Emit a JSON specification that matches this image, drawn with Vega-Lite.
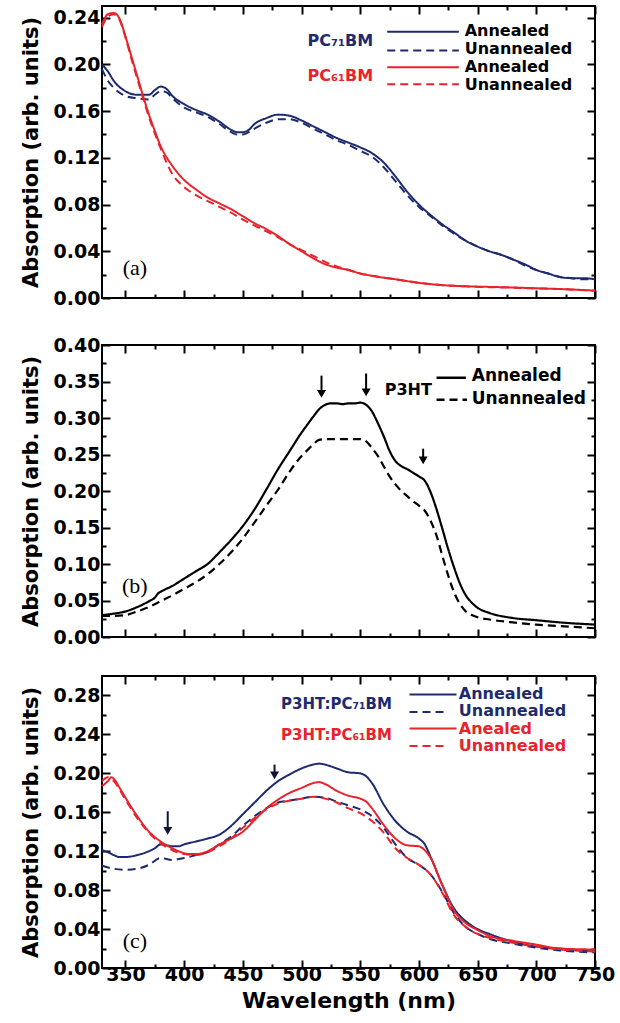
{
"$schema": "https://vega.github.io/schema/vega-lite/v6.json",
"padding": {"left": 19, "top": 4, "right": 2, "bottom": 0},
"spacing": 26,
"config": {
 "view": {"stroke": "black", "strokeWidth": 2},
 "font": "DejaVu Sans",
 "axis": {"domain": false, "grid": false, "tickColor": "black", "tickWidth": 2, "labelFont": "DejaVu Sans", "labelFontWeight": "bold", "labelFontSize": 19, "labelColor": "black", "labelOverlap": false, "labelFlush": false, "titleFont": "DejaVu Sans", "titleFontWeight": "bold", "titleFontSize": 21, "titleColor": "black"}
},
"vconcat": [
{
 "width": 493, "height": 292,
 "resolve": {"axis": {"x": "independent", "y": "independent"}},
 "layer": [
 {
  "data": {"values": [
{"wl":330,"a":0.200,"s":"bs"},{"wl":335,"a":0.194,"s":"bs"},{"wl":340,"a":0.186,"s":"bs"},{"wl":350,"a":0.177,"s":"bs"},{"wl":360,"a":0.174,"s":"bs"},{"wl":370,"a":0.174,"s":"bs"},{"wl":375,"a":0.178,"s":"bs"},{"wl":380,"a":0.181,"s":"bs"},{"wl":385,"a":0.179,"s":"bs"},{"wl":390,"a":0.173,"s":"bs"},{"wl":400,"a":0.166,"s":"bs"},{"wl":410,"a":0.161,"s":"bs"},{"wl":420,"a":0.157,"s":"bs"},{"wl":430,"a":0.151,"s":"bs"},{"wl":440,"a":0.144,"s":"bs"},{"wl":445,"a":0.142,"s":"bs"},{"wl":450,"a":0.142,"s":"bs"},{"wl":455,"a":0.144,"s":"bs"},{"wl":460,"a":0.149,"s":"bs"},{"wl":470,"a":0.154,"s":"bs"},{"wl":480,"a":0.157,"s":"bs"},{"wl":490,"a":0.156,"s":"bs"},{"wl":500,"a":0.152,"s":"bs"},{"wl":510,"a":0.147,"s":"bs"},{"wl":520,"a":0.142,"s":"bs"},{"wl":530,"a":0.137,"s":"bs"},{"wl":540,"a":0.133,"s":"bs"},{"wl":550,"a":0.129,"s":"bs"},{"wl":560,"a":0.124,"s":"bs"},{"wl":570,"a":0.116,"s":"bs"},{"wl":580,"a":0.104,"s":"bs"},{"wl":590,"a":0.091,"s":"bs"},{"wl":600,"a":0.080,"s":"bs"},{"wl":610,"a":0.071,"s":"bs"},{"wl":620,"a":0.063,"s":"bs"},{"wl":630,"a":0.056,"s":"bs"},{"wl":640,"a":0.049,"s":"bs"},{"wl":650,"a":0.044,"s":"bs"},{"wl":660,"a":0.040,"s":"bs"},{"wl":670,"a":0.037,"s":"bs"},{"wl":680,"a":0.033,"s":"bs"},{"wl":690,"a":0.029,"s":"bs"},{"wl":700,"a":0.024,"s":"bs"},{"wl":710,"a":0.021,"s":"bs"},{"wl":720,"a":0.018,"s":"bs"},{"wl":730,"a":0.017,"s":"bs"},{"wl":740,"a":0.017,"s":"bs"},{"wl":750,"a":0.016,"s":"bs"},
{"wl":330,"a":0.196,"s":"bd"},{"wl":335,"a":0.186,"s":"bd"},{"wl":340,"a":0.180,"s":"bd"},{"wl":350,"a":0.173,"s":"bd"},{"wl":360,"a":0.171,"s":"bd"},{"wl":370,"a":0.170,"s":"bd"},{"wl":375,"a":0.174,"s":"bd"},{"wl":380,"a":0.177,"s":"bd"},{"wl":385,"a":0.176,"s":"bd"},{"wl":390,"a":0.171,"s":"bd"},{"wl":400,"a":0.163,"s":"bd"},{"wl":410,"a":0.159,"s":"bd"},{"wl":420,"a":0.155,"s":"bd"},{"wl":430,"a":0.149,"s":"bd"},{"wl":440,"a":0.142,"s":"bd"},{"wl":445,"a":0.140,"s":"bd"},{"wl":450,"a":0.140,"s":"bd"},{"wl":455,"a":0.142,"s":"bd"},{"wl":460,"a":0.145,"s":"bd"},{"wl":470,"a":0.150,"s":"bd"},{"wl":480,"a":0.153,"s":"bd"},{"wl":490,"a":0.153,"s":"bd"},{"wl":500,"a":0.150,"s":"bd"},{"wl":510,"a":0.145,"s":"bd"},{"wl":520,"a":0.140,"s":"bd"},{"wl":530,"a":0.135,"s":"bd"},{"wl":540,"a":0.131,"s":"bd"},{"wl":550,"a":0.126,"s":"bd"},{"wl":560,"a":0.121,"s":"bd"},{"wl":570,"a":0.112,"s":"bd"},{"wl":580,"a":0.100,"s":"bd"},{"wl":590,"a":0.088,"s":"bd"},{"wl":600,"a":0.078,"s":"bd"},{"wl":610,"a":0.070,"s":"bd"},{"wl":620,"a":0.062,"s":"bd"},{"wl":630,"a":0.055,"s":"bd"},{"wl":640,"a":0.049,"s":"bd"},{"wl":650,"a":0.044,"s":"bd"},{"wl":660,"a":0.040,"s":"bd"},{"wl":670,"a":0.037,"s":"bd"},{"wl":680,"a":0.033,"s":"bd"},{"wl":690,"a":0.028,"s":"bd"},{"wl":700,"a":0.024,"s":"bd"},{"wl":710,"a":0.021,"s":"bd"},{"wl":720,"a":0.018,"s":"bd"},{"wl":730,"a":0.017,"s":"bd"},{"wl":740,"a":0.016,"s":"bd"},{"wl":750,"a":0.016,"s":"bd"},
{"wl":330,"a":0.234,"s":"rs"},{"wl":335,"a":0.243,"s":"rs"},{"wl":340,"a":0.244,"s":"rs"},{"wl":345,"a":0.239,"s":"rs"},{"wl":350,"a":0.224,"s":"rs"},{"wl":355,"a":0.207,"s":"rs"},{"wl":360,"a":0.190,"s":"rs"},{"wl":365,"a":0.173,"s":"rs"},{"wl":370,"a":0.157,"s":"rs"},{"wl":375,"a":0.143,"s":"rs"},{"wl":380,"a":0.130,"s":"rs"},{"wl":390,"a":0.113,"s":"rs"},{"wl":400,"a":0.101,"s":"rs"},{"wl":410,"a":0.093,"s":"rs"},{"wl":420,"a":0.086,"s":"rs"},{"wl":430,"a":0.081,"s":"rs"},{"wl":440,"a":0.076,"s":"rs"},{"wl":450,"a":0.070,"s":"rs"},{"wl":460,"a":0.064,"s":"rs"},{"wl":470,"a":0.059,"s":"rs"},{"wl":480,"a":0.053,"s":"rs"},{"wl":490,"a":0.046,"s":"rs"},{"wl":500,"a":0.040,"s":"rs"},{"wl":510,"a":0.034,"s":"rs"},{"wl":520,"a":0.029,"s":"rs"},{"wl":530,"a":0.026,"s":"rs"},{"wl":540,"a":0.024,"s":"rs"},{"wl":550,"a":0.021,"s":"rs"},{"wl":560,"a":0.019,"s":"rs"},{"wl":580,"a":0.016,"s":"rs"},{"wl":600,"a":0.013,"s":"rs"},{"wl":620,"a":0.011,"s":"rs"},{"wl":640,"a":0.010,"s":"rs"},{"wl":660,"a":0.0095,"s":"rs"},{"wl":680,"a":0.009,"s":"rs"},{"wl":700,"a":0.0083,"s":"rs"},{"wl":720,"a":0.0077,"s":"rs"},{"wl":750,"a":0.0063,"s":"rs"},
{"wl":330,"a":0.232,"s":"rd"},{"wl":335,"a":0.241,"s":"rd"},{"wl":340,"a":0.243,"s":"rd"},{"wl":345,"a":0.238,"s":"rd"},{"wl":350,"a":0.223,"s":"rd"},{"wl":355,"a":0.205,"s":"rd"},{"wl":360,"a":0.188,"s":"rd"},{"wl":365,"a":0.171,"s":"rd"},{"wl":370,"a":0.155,"s":"rd"},{"wl":375,"a":0.141,"s":"rd"},{"wl":380,"a":0.128,"s":"rd"},{"wl":390,"a":0.106,"s":"rd"},{"wl":400,"a":0.095,"s":"rd"},{"wl":410,"a":0.088,"s":"rd"},{"wl":420,"a":0.083,"s":"rd"},{"wl":430,"a":0.078,"s":"rd"},{"wl":440,"a":0.073,"s":"rd"},{"wl":450,"a":0.067,"s":"rd"},{"wl":460,"a":0.062,"s":"rd"},{"wl":470,"a":0.057,"s":"rd"},{"wl":480,"a":0.052,"s":"rd"},{"wl":490,"a":0.046,"s":"rd"},{"wl":500,"a":0.041,"s":"rd"},{"wl":510,"a":0.036,"s":"rd"},{"wl":520,"a":0.031,"s":"rd"},{"wl":530,"a":0.027,"s":"rd"},{"wl":540,"a":0.024,"s":"rd"},{"wl":550,"a":0.021,"s":"rd"},{"wl":560,"a":0.019,"s":"rd"},{"wl":580,"a":0.016,"s":"rd"},{"wl":600,"a":0.013,"s":"rd"},{"wl":620,"a":0.011,"s":"rd"},{"wl":640,"a":0.010,"s":"rd"},{"wl":660,"a":0.0093,"s":"rd"},{"wl":680,"a":0.0088,"s":"rd"},{"wl":700,"a":0.0082,"s":"rd"},{"wl":720,"a":0.0076,"s":"rd"},{"wl":750,"a":0.0062,"s":"rd"}
  ]},
  "mark": {"type": "line", "strokeWidth": 2, "interpolate": "monotone"},
  "encoding": {
   "x": {"field": "wl", "type": "quantitative", "scale": {"domain": [330, 750], "nice": false, "zero": false}, "axis": {"orient": "bottom", "title": null, "labels": false, "values": [350,375,400,425,450,475,500,525,550,575,600,625,650,675,700,725,750], "tickSize": {"condition": {"test": "datum.value % 50 == 0", "value": -8}, "value": -4}}},
   "y": {"field": "a", "type": "quantitative", "scale": {"domain": [0, 0.25], "nice": false}, "axis": {"orient": "left", "title": "Absorption (arb. units)", "format": ".2f", "values": [0,0.02,0.04,0.06,0.08,0.1,0.12,0.14,0.16,0.18,0.2,0.22,0.24], "labelExpr": "round(datum.value*100) % 4 == 0 ? datum.label : ''", "tickSize": {"condition": {"test": "round(datum.value*100) % 4 == 0", "value": -8}, "value": -4}, "labelPadding": 10, "titlePadding": 12}},
   "color": {"field": "s", "type": "nominal", "scale": {"domain": ["bs","bd","rs","rd","ks","kd"], "range": ["#1d2b6e","#1d2b6e","#e8232b","#e8232b","#000000","#000000"]}, "legend": null},
   "strokeDash": {"field": "s", "type": "nominal", "scale": {"domain": ["bs","bd","rs","rd","ks","kd"], "range": [[1,0],[8,5],[1,0],[8,5],[1,0],[8,5]]}, "legend": null}
  }
 },
 {
  "data": {"values": [
   {"wl":573,"wl2":634,"a":0.228,"s":"bs"},{"wl":573,"wl2":634,"a":0.212,"s":"bd"},{"wl":573,"wl2":634,"a":0.1975,"s":"rs"},{"wl":573,"wl2":634,"a":0.183,"s":"rd"}
  ]},
  "mark": {"type": "rule", "strokeWidth": 2},
  "encoding": {
   "x": {"field": "wl", "type": "quantitative", "axis": null}, "x2": {"field": "wl2"},
   "y": {"field": "a", "type": "quantitative", "axis": null},
   "color": {"field": "s", "type": "nominal", "legend": null},
   "strokeDash": {"field": "s", "type": "nominal", "legend": null}
  }
 },
 {
  "data": {"values": [
   {"wl":639,"a":0.2290,"t":"Annealed","s":"ks"},{"wl":639,"a":0.2130,"t":"Unannealed","s":"ks"},{"wl":639,"a":0.1980,"t":"Annealed","s":"ks"},{"wl":639,"a":0.1825,"t":"Unannealed","s":"ks"}
  ]},
  "mark": {"type": "text", "align": "left", "baseline": "middle", "font": "DejaVu Sans", "fontWeight": "bold", "fontSize": 16},
  "encoding": {
   "x": {"field": "wl", "type": "quantitative", "axis": {"orient": "top", "title": null, "labels": false, "values": [350,375,400,425,450,475,500,525,550,575,600,625,650,675,700,725,750], "tickSize": {"condition": {"test": "datum.value % 50 == 0", "value": -8}, "value": -4}}},
   "y": {"field": "a", "type": "quantitative", "axis": {"orient": "right", "title": null, "labels": false, "values": [0,0.02,0.04,0.06,0.08,0.1,0.12,0.14,0.16,0.18,0.2,0.22,0.24], "tickSize": {"condition": {"test": "round(datum.value*100) % 4 == 0", "value": -8}, "value": -4}}},
   "text": {"field": "t"},
   "color": {"field": "s", "type": "nominal", "legend": null}
  }
 },
 {
  "data": {"values": [
   {"wl":561,"a":0.220,"t":"PC₇₁BM","s":"bs"},{"wl":561,"a":0.190,"t":"PC₆₁BM","s":"rs"}
  ]},
  "mark": {"type": "text", "align": "right", "baseline": "middle", "font": "DejaVu Sans", "fontWeight": "bold", "fontSize": 16},
  "encoding": {
   "x": {"field": "wl", "type": "quantitative", "axis": null},
   "y": {"field": "a", "type": "quantitative", "axis": null},
   "text": {"field": "t"},
   "color": {"field": "s", "type": "nominal", "legend": null}
  }
 },
 {
  "data": {"values": [{"wl":358,"a":0.026,"t":"(a)"}]},
  "mark": {"type": "text", "align": "center", "baseline": "middle", "font": "Liberation Serif", "fontSize": 22, "color": "black"},
  "encoding": {
   "x": {"field": "wl", "type": "quantitative", "axis": null},
   "y": {"field": "a", "type": "quantitative", "axis": null},
   "text": {"field": "t"}
  }
 }
 ]
},
{
 "width": 493, "height": 292,
 "resolve": {"axis": {"x": "independent", "y": "independent"}},
 "layer": [
 {
  "data": {"values": [
{"wl":330,"a":0.030,"s":"ks"},{"wl":340,"a":0.032,"s":"ks"},{"wl":350,"a":0.035,"s":"ks"},{"wl":360,"a":0.041,"s":"ks"},{"wl":370,"a":0.049,"s":"ks"},{"wl":375,"a":0.054,"s":"ks"},{"wl":378,"a":0.060,"s":"ks"},{"wl":380,"a":0.062,"s":"ks"},{"wl":390,"a":0.070,"s":"ks"},{"wl":400,"a":0.080,"s":"ks"},{"wl":410,"a":0.090,"s":"ks"},{"wl":420,"a":0.100,"s":"ks"},{"wl":430,"a":0.116,"s":"ks"},{"wl":440,"a":0.133,"s":"ks"},{"wl":450,"a":0.152,"s":"ks"},{"wl":460,"a":0.175,"s":"ks"},{"wl":470,"a":0.202,"s":"ks"},{"wl":480,"a":0.230,"s":"ks"},{"wl":490,"a":0.255,"s":"ks"},{"wl":500,"a":0.280,"s":"ks"},{"wl":505,"a":0.291,"s":"ks"},{"wl":510,"a":0.302,"s":"ks"},{"wl":515,"a":0.312,"s":"ks"},{"wl":520,"a":0.318,"s":"ks"},{"wl":525,"a":0.320,"s":"ks"},{"wl":530,"a":0.320,"s":"ks"},{"wl":535,"a":0.319,"s":"ks"},{"wl":540,"a":0.320,"s":"ks"},{"wl":545,"a":0.320,"s":"ks"},{"wl":550,"a":0.321,"s":"ks"},{"wl":555,"a":0.318,"s":"ks"},{"wl":560,"a":0.309,"s":"ks"},{"wl":565,"a":0.293,"s":"ks"},{"wl":570,"a":0.275,"s":"ks"},{"wl":575,"a":0.255,"s":"ks"},{"wl":580,"a":0.241,"s":"ks"},{"wl":585,"a":0.234,"s":"ks"},{"wl":590,"a":0.230,"s":"ks"},{"wl":595,"a":0.225,"s":"ks"},{"wl":600,"a":0.220,"s":"ks"},{"wl":605,"a":0.214,"s":"ks"},{"wl":610,"a":0.198,"s":"ks"},{"wl":615,"a":0.175,"s":"ks"},{"wl":620,"a":0.148,"s":"ks"},{"wl":625,"a":0.120,"s":"ks"},{"wl":630,"a":0.095,"s":"ks"},{"wl":635,"a":0.073,"s":"ks"},{"wl":640,"a":0.057,"s":"ks"},{"wl":645,"a":0.047,"s":"ks"},{"wl":650,"a":0.040,"s":"ks"},{"wl":660,"a":0.033,"s":"ks"},{"wl":680,"a":0.026,"s":"ks"},{"wl":700,"a":0.023,"s":"ks"},{"wl":720,"a":0.020,"s":"ks"},{"wl":750,"a":0.017,"s":"ks"},
{"wl":330,"a":0.029,"s":"kd"},{"wl":340,"a":0.029,"s":"kd"},{"wl":350,"a":0.030,"s":"kd"},{"wl":360,"a":0.035,"s":"kd"},{"wl":370,"a":0.041,"s":"kd"},{"wl":380,"a":0.049,"s":"kd"},{"wl":390,"a":0.057,"s":"kd"},{"wl":400,"a":0.066,"s":"kd"},{"wl":410,"a":0.075,"s":"kd"},{"wl":420,"a":0.086,"s":"kd"},{"wl":430,"a":0.100,"s":"kd"},{"wl":440,"a":0.116,"s":"kd"},{"wl":450,"a":0.135,"s":"kd"},{"wl":460,"a":0.157,"s":"kd"},{"wl":470,"a":0.180,"s":"kd"},{"wl":480,"a":0.202,"s":"kd"},{"wl":490,"a":0.227,"s":"kd"},{"wl":500,"a":0.248,"s":"kd"},{"wl":505,"a":0.256,"s":"kd"},{"wl":510,"a":0.264,"s":"kd"},{"wl":515,"a":0.270,"s":"kd"},{"wl":520,"a":0.271,"s":"kd"},{"wl":530,"a":0.271,"s":"kd"},{"wl":540,"a":0.271,"s":"kd"},{"wl":550,"a":0.271,"s":"kd"},{"wl":555,"a":0.268,"s":"kd"},{"wl":560,"a":0.259,"s":"kd"},{"wl":565,"a":0.248,"s":"kd"},{"wl":570,"a":0.234,"s":"kd"},{"wl":575,"a":0.220,"s":"kd"},{"wl":580,"a":0.209,"s":"kd"},{"wl":585,"a":0.200,"s":"kd"},{"wl":590,"a":0.193,"s":"kd"},{"wl":595,"a":0.186,"s":"kd"},{"wl":600,"a":0.180,"s":"kd"},{"wl":605,"a":0.173,"s":"kd"},{"wl":610,"a":0.159,"s":"kd"},{"wl":615,"a":0.139,"s":"kd"},{"wl":620,"a":0.111,"s":"kd"},{"wl":625,"a":0.084,"s":"kd"},{"wl":630,"a":0.061,"s":"kd"},{"wl":635,"a":0.045,"s":"kd"},{"wl":640,"a":0.035,"s":"kd"},{"wl":645,"a":0.030,"s":"kd"},{"wl":650,"a":0.027,"s":"kd"},{"wl":660,"a":0.024,"s":"kd"},{"wl":680,"a":0.020,"s":"kd"},{"wl":700,"a":0.017,"s":"kd"},{"wl":720,"a":0.015,"s":"kd"},{"wl":750,"a":0.012,"s":"kd"}
  ]},
  "mark": {"type": "line", "strokeWidth": 2.2, "interpolate": "monotone"},
  "encoding": {
   "x": {"field": "wl", "type": "quantitative", "scale": {"domain": [330, 750], "nice": false, "zero": false}, "axis": {"orient": "bottom", "title": null, "labels": false, "values": [350,375,400,425,450,475,500,525,550,575,600,625,650,675,700,725,750], "tickSize": {"condition": {"test": "datum.value % 50 == 0", "value": -8}, "value": -4}}},
   "y": {"field": "a", "type": "quantitative", "scale": {"domain": [0, 0.4], "nice": false}, "axis": {"orient": "left", "title": "Absorption (arb. units)", "format": ".2f", "values": [0,0.025,0.05,0.075,0.1,0.125,0.15,0.175,0.2,0.225,0.25,0.275,0.3,0.325,0.35,0.375,0.4], "labelExpr": "round(datum.value*1000) % 50 == 0 ? datum.label : ''", "tickSize": {"condition": {"test": "round(datum.value*1000) % 50 == 0", "value": -8}, "value": -4}, "labelPadding": 10, "titlePadding": 12}},
   "color": {"field": "s", "type": "nominal", "scale": {"domain": ["bs","bd","rs","rd","ks","kd"], "range": ["#1d2b6e","#1d2b6e","#e8232b","#e8232b","#000000","#000000"]}, "legend": null},
   "strokeDash": {"field": "s", "type": "nominal", "scale": {"domain": ["bs","bd","rs","rd","ks","kd"], "range": [[1,0],[8,5],[1,0],[8,5],[1,0],[8,5]]}, "legend": null}
  }
 },
 {
  "data": {"values": [
   {"wl":615,"wl2":640,"a":0.355,"s":"ks"},{"wl":615,"wl2":641,"a":0.325,"s":"kd"}
  ]},
  "mark": {"type": "rule", "strokeWidth": 2.5},
  "encoding": {
   "x": {"field": "wl", "type": "quantitative", "axis": null}, "x2": {"field": "wl2"},
   "y": {"field": "a", "type": "quantitative", "axis": null},
   "color": {"field": "s", "type": "nominal", "legend": null},
   "strokeDash": {"field": "s", "type": "nominal", "legend": null}
  }
 },
 {
  "data": {"values": [
   {"wl":645,"a":0.357,"t":"Annealed","s":"ks"},{"wl":645,"a":0.326,"t":"Unannealed","s":"ks"}
  ]},
  "mark": {"type": "text", "align": "left", "baseline": "middle", "font": "DejaVu Sans", "fontWeight": "bold", "fontSize": 17},
  "encoding": {
   "x": {"field": "wl", "type": "quantitative", "axis": {"orient": "top", "title": null, "labels": false, "values": [350,375,400,425,450,475,500,525,550,575,600,625,650,675,700,725,750], "tickSize": {"condition": {"test": "datum.value % 50 == 0", "value": -8}, "value": -4}}},
   "y": {"field": "a", "type": "quantitative", "axis": {"orient": "right", "title": null, "labels": false, "values": [0,0.025,0.05,0.075,0.1,0.125,0.15,0.175,0.2,0.225,0.25,0.275,0.3,0.325,0.35,0.375,0.4], "tickSize": {"condition": {"test": "round(datum.value*1000) % 50 == 0", "value": -8}, "value": -4}}},
   "text": {"field": "t"},
   "color": {"field": "s", "type": "nominal", "legend": null}
  }
 },
 {
  "data": {"values": [{"wl":611,"a":0.339,"t":"P3HT","s":"ks"}]},
  "mark": {"type": "text", "align": "right", "baseline": "middle", "font": "DejaVu Sans", "fontWeight": "bold", "fontSize": 16},
  "encoding": {
   "x": {"field": "wl", "type": "quantitative", "axis": null},
   "y": {"field": "a", "type": "quantitative", "axis": null},
   "text": {"field": "t"},
   "color": {"field": "s", "type": "nominal", "legend": null}
  }
 },
 {
  "data": {"values": [{"wl":517,"y1":0.358,"y2":0.333},{"wl":555,"y1":0.361,"y2":0.335},{"wl":603.6,"y1":0.258,"y2":0.242}]},
  "mark": {"type": "rule", "strokeWidth": 2, "color": "black"},
  "encoding": {
   "x": {"field": "wl", "type": "quantitative", "axis": null},
   "y": {"field": "y1", "type": "quantitative", "axis": null},
   "y2": {"field": "y2"}
  }
 },
 {
  "data": {"values": [{"wl":517,"y2":0.333},{"wl":555,"y2":0.335},{"wl":603.6,"y2":0.242}]},
  "mark": {"type": "point", "shape": "triangle-down", "filled": true, "size": 80, "color": "black", "opacity": 1},
  "encoding": {
   "x": {"field": "wl", "type": "quantitative", "axis": null},
   "y": {"field": "y2", "type": "quantitative", "axis": null}
  }
 },
 {
  "data": {"values": [{"wl":358,"a":0.070,"t":"(b)"}]},
  "mark": {"type": "text", "align": "center", "baseline": "middle", "font": "Liberation Serif", "fontSize": 22, "color": "black"},
  "encoding": {
   "x": {"field": "wl", "type": "quantitative", "axis": null},
   "y": {"field": "a", "type": "quantitative", "axis": null},
   "text": {"field": "t"}
  }
 }
 ]
},
{
 "width": 493, "height": 292,
 "resolve": {"axis": {"x": "independent", "y": "independent"}},
 "layer": [
 {
  "data": {"values": [
{"wl":330,"a":0.121,"s":"bs"},{"wl":335,"a":0.119,"s":"bs"},{"wl":340,"a":0.116,"s":"bs"},{"wl":345,"a":0.114,"s":"bs"},{"wl":350,"a":0.114,"s":"bs"},{"wl":360,"a":0.116,"s":"bs"},{"wl":370,"a":0.120,"s":"bs"},{"wl":375,"a":0.123,"s":"bs"},{"wl":380,"a":0.127,"s":"bs"},{"wl":385,"a":0.126,"s":"bs"},{"wl":390,"a":0.125,"s":"bs"},{"wl":395,"a":0.125,"s":"bs"},{"wl":400,"a":0.127,"s":"bs"},{"wl":410,"a":0.130,"s":"bs"},{"wl":420,"a":0.133,"s":"bs"},{"wl":430,"a":0.137,"s":"bs"},{"wl":440,"a":0.146,"s":"bs"},{"wl":450,"a":0.158,"s":"bs"},{"wl":460,"a":0.170,"s":"bs"},{"wl":470,"a":0.182,"s":"bs"},{"wl":480,"a":0.192,"s":"bs"},{"wl":490,"a":0.199,"s":"bs"},{"wl":500,"a":0.205,"s":"bs"},{"wl":510,"a":0.209,"s":"bs"},{"wl":515,"a":0.210,"s":"bs"},{"wl":520,"a":0.209,"s":"bs"},{"wl":530,"a":0.205,"s":"bs"},{"wl":540,"a":0.201,"s":"bs"},{"wl":550,"a":0.200,"s":"bs"},{"wl":555,"a":0.197,"s":"bs"},{"wl":560,"a":0.190,"s":"bs"},{"wl":570,"a":0.168,"s":"bs"},{"wl":580,"a":0.151,"s":"bs"},{"wl":590,"a":0.140,"s":"bs"},{"wl":600,"a":0.133,"s":"bs"},{"wl":605,"a":0.127,"s":"bs"},{"wl":610,"a":0.114,"s":"bs"},{"wl":620,"a":0.085,"s":"bs"},{"wl":630,"a":0.061,"s":"bs"},{"wl":640,"a":0.048,"s":"bs"},{"wl":650,"a":0.040,"s":"bs"},{"wl":660,"a":0.035,"s":"bs"},{"wl":680,"a":0.027,"s":"bs"},{"wl":700,"a":0.022,"s":"bs"},{"wl":720,"a":0.020,"s":"bs"},{"wl":750,"a":0.017,"s":"bs"},
{"wl":330,"a":0.105,"s":"bd"},{"wl":340,"a":0.102,"s":"bd"},{"wl":350,"a":0.101,"s":"bd"},{"wl":360,"a":0.102,"s":"bd"},{"wl":370,"a":0.106,"s":"bd"},{"wl":380,"a":0.113,"s":"bd"},{"wl":390,"a":0.111,"s":"bd"},{"wl":400,"a":0.113,"s":"bd"},{"wl":410,"a":0.116,"s":"bd"},{"wl":420,"a":0.119,"s":"bd"},{"wl":430,"a":0.127,"s":"bd"},{"wl":440,"a":0.135,"s":"bd"},{"wl":450,"a":0.146,"s":"bd"},{"wl":460,"a":0.156,"s":"bd"},{"wl":470,"a":0.164,"s":"bd"},{"wl":480,"a":0.170,"s":"bd"},{"wl":490,"a":0.172,"s":"bd"},{"wl":500,"a":0.174,"s":"bd"},{"wl":510,"a":0.176,"s":"bd"},{"wl":520,"a":0.175,"s":"bd"},{"wl":530,"a":0.171,"s":"bd"},{"wl":540,"a":0.167,"s":"bd"},{"wl":550,"a":0.163,"s":"bd"},{"wl":560,"a":0.156,"s":"bd"},{"wl":570,"a":0.144,"s":"bd"},{"wl":580,"a":0.127,"s":"bd"},{"wl":590,"a":0.113,"s":"bd"},{"wl":600,"a":0.106,"s":"bd"},{"wl":610,"a":0.096,"s":"bd"},{"wl":620,"a":0.078,"s":"bd"},{"wl":630,"a":0.056,"s":"bd"},{"wl":640,"a":0.042,"s":"bd"},{"wl":650,"a":0.035,"s":"bd"},{"wl":660,"a":0.030,"s":"bd"},{"wl":680,"a":0.025,"s":"bd"},{"wl":700,"a":0.021,"s":"bd"},{"wl":720,"a":0.018,"s":"bd"},{"wl":750,"a":0.016,"s":"bd"},
{"wl":330,"a":0.187,"s":"rs"},{"wl":335,"a":0.192,"s":"rs"},{"wl":338,"a":0.196,"s":"rs"},{"wl":341,"a":0.193,"s":"rs"},{"wl":345,"a":0.185,"s":"rs"},{"wl":350,"a":0.175,"s":"rs"},{"wl":360,"a":0.156,"s":"rs"},{"wl":370,"a":0.140,"s":"rs"},{"wl":380,"a":0.130,"s":"rs"},{"wl":390,"a":0.123,"s":"rs"},{"wl":400,"a":0.118,"s":"rs"},{"wl":405,"a":0.117,"s":"rs"},{"wl":410,"a":0.117,"s":"rs"},{"wl":420,"a":0.120,"s":"rs"},{"wl":430,"a":0.127,"s":"rs"},{"wl":440,"a":0.133,"s":"rs"},{"wl":450,"a":0.140,"s":"rs"},{"wl":460,"a":0.152,"s":"rs"},{"wl":470,"a":0.164,"s":"rs"},{"wl":480,"a":0.173,"s":"rs"},{"wl":490,"a":0.180,"s":"rs"},{"wl":500,"a":0.185,"s":"rs"},{"wl":510,"a":0.190,"s":"rs"},{"wl":515,"a":0.191,"s":"rs"},{"wl":520,"a":0.189,"s":"rs"},{"wl":530,"a":0.182,"s":"rs"},{"wl":540,"a":0.177,"s":"rs"},{"wl":550,"a":0.174,"s":"rs"},{"wl":555,"a":0.171,"s":"rs"},{"wl":560,"a":0.164,"s":"rs"},{"wl":570,"a":0.147,"s":"rs"},{"wl":580,"a":0.133,"s":"rs"},{"wl":590,"a":0.126,"s":"rs"},{"wl":600,"a":0.125,"s":"rs"},{"wl":605,"a":0.121,"s":"rs"},{"wl":610,"a":0.113,"s":"rs"},{"wl":620,"a":0.085,"s":"rs"},{"wl":630,"a":0.059,"s":"rs"},{"wl":640,"a":0.046,"s":"rs"},{"wl":650,"a":0.039,"s":"rs"},{"wl":660,"a":0.033,"s":"rs"},{"wl":680,"a":0.028,"s":"rs"},{"wl":700,"a":0.024,"s":"rs"},{"wl":720,"a":0.020,"s":"rs"},{"wl":750,"a":0.019,"s":"rs"},
{"wl":330,"a":0.192,"s":"rd"},{"wl":335,"a":0.196,"s":"rd"},{"wl":340,"a":0.192,"s":"rd"},{"wl":350,"a":0.173,"s":"rd"},{"wl":360,"a":0.154,"s":"rd"},{"wl":370,"a":0.139,"s":"rd"},{"wl":380,"a":0.128,"s":"rd"},{"wl":390,"a":0.121,"s":"rd"},{"wl":400,"a":0.117,"s":"rd"},{"wl":410,"a":0.116,"s":"rd"},{"wl":420,"a":0.119,"s":"rd"},{"wl":430,"a":0.125,"s":"rd"},{"wl":440,"a":0.133,"s":"rd"},{"wl":450,"a":0.144,"s":"rd"},{"wl":460,"a":0.154,"s":"rd"},{"wl":470,"a":0.163,"s":"rd"},{"wl":480,"a":0.169,"s":"rd"},{"wl":490,"a":0.172,"s":"rd"},{"wl":500,"a":0.174,"s":"rd"},{"wl":510,"a":0.176,"s":"rd"},{"wl":520,"a":0.174,"s":"rd"},{"wl":530,"a":0.170,"s":"rd"},{"wl":540,"a":0.164,"s":"rd"},{"wl":550,"a":0.159,"s":"rd"},{"wl":560,"a":0.151,"s":"rd"},{"wl":570,"a":0.139,"s":"rd"},{"wl":580,"a":0.123,"s":"rd"},{"wl":590,"a":0.113,"s":"rd"},{"wl":600,"a":0.106,"s":"rd"},{"wl":610,"a":0.096,"s":"rd"},{"wl":620,"a":0.077,"s":"rd"},{"wl":630,"a":0.054,"s":"rd"},{"wl":640,"a":0.042,"s":"rd"},{"wl":650,"a":0.035,"s":"rd"},{"wl":660,"a":0.031,"s":"rd"},{"wl":680,"a":0.026,"s":"rd"},{"wl":700,"a":0.022,"s":"rd"},{"wl":720,"a":0.019,"s":"rd"},{"wl":750,"a":0.017,"s":"rd"}
  ]},
  "mark": {"type": "line", "strokeWidth": 2, "interpolate": "monotone"},
  "encoding": {
   "x": {"field": "wl", "type": "quantitative", "scale": {"domain": [330, 750], "nice": false, "zero": false}, "axis": {"orient": "bottom", "title": "Wavelength (nm)", "titleFontSize": 22, "titlePadding": 2, "labelPadding": 5, "labelExpr": "datum.value % 50 == 0 ? datum.label : ''", "values": [350,375,400,425,450,475,500,525,550,575,600,625,650,675,700,725,750], "tickSize": {"condition": {"test": "datum.value % 50 == 0", "value": -8}, "value": -4}}},
   "y": {"field": "a", "type": "quantitative", "scale": {"domain": [0, 0.3], "nice": false}, "axis": {"orient": "left", "title": "Absorption (arb. units)", "format": ".2f", "values": [0,0.02,0.04,0.06,0.08,0.1,0.12,0.14,0.16,0.18,0.2,0.22,0.24,0.26,0.28], "labelExpr": "round(datum.value*100) % 4 == 0 ? datum.label : ''", "tickSize": {"condition": {"test": "round(datum.value*100) % 4 == 0", "value": -8}, "value": -4}, "labelPadding": 10, "titlePadding": 12}},
   "color": {"field": "s", "type": "nominal", "scale": {"domain": ["bs","bd","rs","rd","ks","kd"], "range": ["#1d2b6e","#1d2b6e","#e8232b","#e8232b","#000000","#000000"]}, "legend": null},
   "strokeDash": {"field": "s", "type": "nominal", "scale": {"domain": ["bs","bd","rs","rd","ks","kd"], "range": [[1,0],[8,5],[1,0],[8,5],[1,0],[8,5]]}, "legend": null}
  }
 },
 {
  "data": {"values": [
   {"wl":592,"wl2":632,"a":0.281,"s":"bs"},{"wl":592,"wl2":622,"a":0.263,"s":"bd"},{"wl":592,"wl2":632,"a":0.246,"s":"rs"},{"wl":592,"wl2":622,"a":0.228,"s":"rd"}
  ]},
  "mark": {"type": "rule", "strokeWidth": 2},
  "encoding": {
   "x": {"field": "wl", "type": "quantitative", "axis": null}, "x2": {"field": "wl2"},
   "y": {"field": "a", "type": "quantitative", "axis": null},
   "color": {"field": "s", "type": "nominal", "legend": null},
   "strokeDash": {"field": "s", "type": "nominal", "legend": null}
  }
 },
 {
  "data": {"values": [
   {"wl":634,"a":0.282,"t":"Annealed","s":"bs"},{"wl":634,"a":0.264,"t":"Unannealed","s":"bs"},{"wl":634,"a":0.246,"t":"Anealed","s":"rs"},{"wl":634,"a":0.228,"t":"Unannealed","s":"rs"}
  ]},
  "mark": {"type": "text", "align": "left", "baseline": "middle", "font": "DejaVu Sans", "fontWeight": "bold", "fontSize": 16},
  "encoding": {
   "x": {"field": "wl", "type": "quantitative", "axis": {"orient": "top", "title": null, "labels": false, "values": [350,375,400,425,450,475,500,525,550,575,600,625,650,675,700,725,750], "tickSize": {"condition": {"test": "datum.value % 50 == 0", "value": -8}, "value": -4}}},
   "y": {"field": "a", "type": "quantitative", "axis": {"orient": "right", "title": null, "labels": false, "values": [0,0.02,0.04,0.06,0.08,0.1,0.12,0.14,0.16,0.18,0.2,0.22,0.24,0.26,0.28], "tickSize": {"condition": {"test": "round(datum.value*100) % 4 == 0", "value": -8}, "value": -4}}},
   "text": {"field": "t"},
   "color": {"field": "s", "type": "nominal", "legend": null}
  }
 },
 {
  "data": {"values": [
   {"wl":577,"a":0.271,"t":"P3HT:PC₇₁BM","s":"bs"},{"wl":577,"a":0.239,"t":"P3HT:PC₆₁BM","s":"rs"}
  ]},
  "mark": {"type": "text", "align": "right", "baseline": "middle", "font": "DejaVu Sans", "fontWeight": "bold", "fontSize": 15},
  "encoding": {
   "x": {"field": "wl", "type": "quantitative", "axis": null},
   "y": {"field": "a", "type": "quantitative", "axis": null},
   "text": {"field": "t"},
   "color": {"field": "s", "type": "nominal", "legend": null}
  }
 },
 {
  "data": {"values": [{"wl":386,"y1":0.161,"y2":0.141},{"wl":477,"y1":0.209,"y2":0.198}]},
  "mark": {"type": "rule", "strokeWidth": 2, "color": "#111433"},
  "encoding": {
   "x": {"field": "wl", "type": "quantitative", "axis": null},
   "y": {"field": "y1", "type": "quantitative", "axis": null},
   "y2": {"field": "y2"}
  }
 },
 {
  "data": {"values": [{"wl":386,"y2":0.141},{"wl":477,"y2":0.198}]},
  "mark": {"type": "point", "shape": "triangle-down", "filled": true, "size": 80, "color": "#111433", "opacity": 1},
  "encoding": {
   "x": {"field": "wl", "type": "quantitative", "axis": null},
   "y": {"field": "y2", "type": "quantitative", "axis": null}
  }
 },
 {
  "data": {"values": [{"wl":358,"a":0.028,"t":"(c)"}]},
  "mark": {"type": "text", "align": "center", "baseline": "middle", "font": "Liberation Serif", "fontSize": 22, "color": "black"},
  "encoding": {
   "x": {"field": "wl", "type": "quantitative", "axis": null},
   "y": {"field": "a", "type": "quantitative", "axis": null},
   "text": {"field": "t"}
  }
 }
 ]
}
]
}
